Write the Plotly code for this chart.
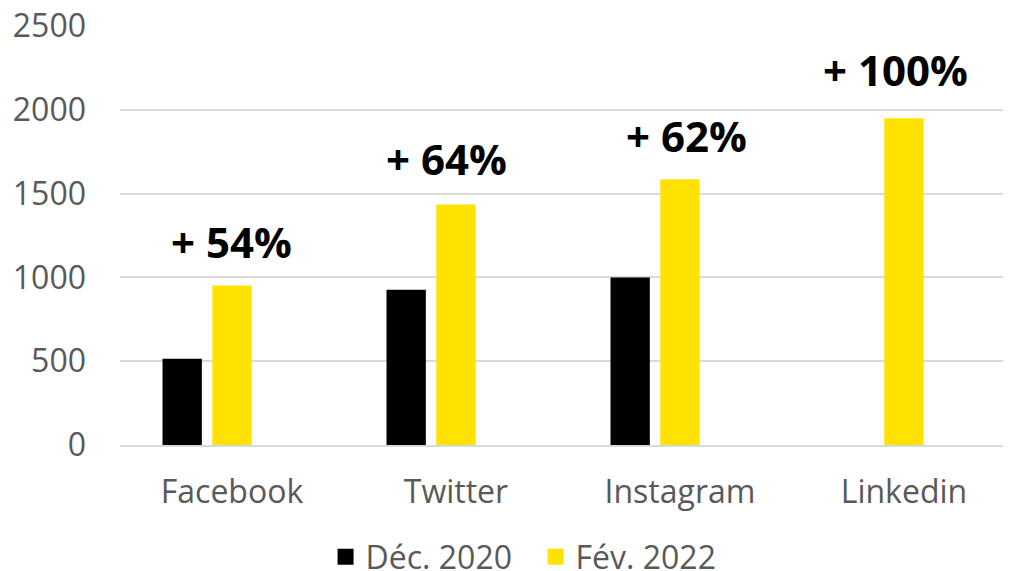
import plotly.graph_objects as go

categories = ["Facebook", "Twitter", "Instagram", "Linkedin"]
dec_2020 = [514, 927, 999, 0]
fev_2022 = [951, 1435, 1585, 1950]
spacer = [0, 0, 0, 0]
growth_labels = ["+ 54%", "+ 64%", "+ 62%", "+ 100%"]
label_y = [1215, 1708, 1846, 2240]
label_xshift = [0, -9, 7, -8]

BLACK = "#000000"
YELLOW = "#FFE200"
FONT = "Open Sans"
GREY = "#595959"

fig = go.Figure()
fig.add_trace(go.Bar(x=categories, y=dec_2020, name="Déc. 2020", marker=dict(color=BLACK, line=dict(width=0)), showlegend=False))
fig.add_trace(go.Bar(x=categories, y=fev_2022, name="Fév. 2022", marker=dict(color=YELLOW, line=dict(width=0)), showlegend=False))
fig.add_trace(go.Bar(x=categories, y=spacer, name="", marker=dict(color="rgba(0,0,0,0)", line=dict(width=0)), showlegend=False, hoverinfo="skip"))

# legend entries
fig.add_trace(go.Scatter(x=[None], y=[None], mode="markers", name="Déc. 2020",
                         marker=dict(symbol="square", size=19, color=BLACK)))
fig.add_trace(go.Scatter(x=[None], y=[None], mode="markers", name="Fév. 2022",
                         marker=dict(symbol="square", size=19, color=YELLOW)))

for cat, txt, yv, xs in zip(categories, growth_labels, label_y, label_xshift):
    fig.add_annotation(x=cat, y=yv, text=txt, showarrow=False, xshift=xs,
                       yanchor="middle", xanchor="center",
                       font=dict(family=FONT, size=42, color="#000000", weight="bold"))

fig.update_layout(
    width=1003, height=563,
    margin=dict(l=112, r=0, t=18, b=126, autoexpand=False),
    paper_bgcolor="white", plot_bgcolor="white",
    barmode="group", bargap=0.333, bargroupgap=0.21,
    font=dict(family=FONT, size=32, color=GREY),
    legend=dict(orientation="h", x=0.526, xref="container", xanchor="center",
                y=0.025, yref="container", yanchor="middle",
                font=dict(family=FONT, size=32, color=GREY),
                itemwidth=30, tracegroupgap=0, itemsizing="trace",
                entrywidth=165, entrywidthmode="pixels"),
    xaxis=dict(showgrid=False, showline=True, linecolor="#d9d9d9", linewidth=2,
               range=[-0.5, 3.478],
               ticks="", ticklabelstandoff=18, automargin=False,
               tickfont=dict(family=FONT, size=32, color=GREY)),
    yaxis=dict(range=[0, 2500], dtick=500, showgrid=True, gridcolor="#d9d9d9", gridwidth=1.5,
               zeroline=False, showline=False, ticks="", ticklabelstandoff=33,
               ticklabeloverflow="allow", automargin=False,
               tickfont=dict(family=FONT, size=32, color=GREY)),
)

fig.write_html("out.html")
